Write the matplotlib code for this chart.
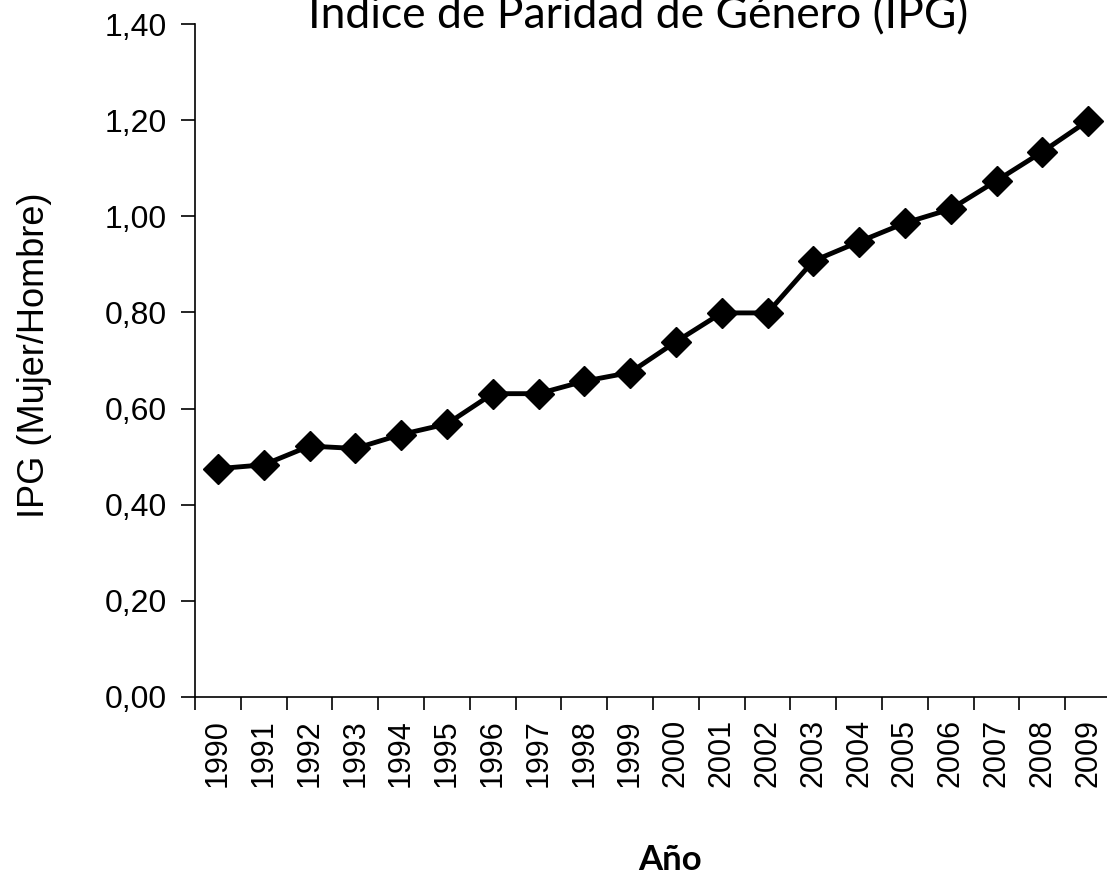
import matplotlib
matplotlib.use("Agg")
import matplotlib.pyplot as plt
import numpy as np

# datos
years = ['1990', '1991', '1992', '1993', '1994', '1995', '1996', '1997', '1998', '1999',
         '2000', '2001', '2002', '2003', '2004', '2005', '2006', '2007', '2008', '2009']
ipg = [0.475, 0.483, 0.522, 0.517, 0.546, 0.568, 0.631, 0.631, 0.657, 0.675,
       0.739, 0.799, 0.799, 0.907, 0.947, 0.986, 1.015, 1.074, 1.134, 1.199]
yticks = [0.0, 0.2, 0.4, 0.6, 0.8, 1.0, 1.2, 1.4]

fig = plt.figure(figsize=(11.07, 8.84), dpi=100)
ax = fig.add_axes([195 / 1107, 187 / 884, 916 / 1107, 673 / 884])

x = np.arange(len(years))
ax.plot(x, ipg, color='black', linewidth=3.5, marker='D', markersize=15.5,
        markerfacecolor='black', markeredgecolor='black', clip_on=False)

ax.set_xlim(-0.5, len(years) - 0.5)
ax.set_ylim(0, 1.4)

# ticks entre categorias (estilo Excel)
ax.set_xticks(np.arange(len(years) + 1) - 0.5)
ax.set_xticklabels([])
ax.set_xticks(x, minor=True)
ax.set_xticklabels(years, minor=True, rotation=90, fontsize=22,
                   family='Liberation Sans')
ax.tick_params(axis='x', which='major', direction='out', length=9, width=1.2)
ax.tick_params(axis='x', which='minor', length=0, pad=16)

ytl = [('%.2f' % v).replace('.', ',') for v in yticks]
ax.set_yticks(yticks)
ax.set_yticklabels(ytl, fontsize=23, family='Liberation Sans')
ax.tick_params(axis='y', direction='out', length=10, width=1.2, pad=10)

ax.spines['top'].set_visible(False)
ax.spines['right'].set_visible(False)
ax.spines['left'].set_linewidth(1.2)
ax.spines['bottom'].set_linewidth(1.2)

fig.text(35 / 1107, 1 - 355 / 884, 'IPG (Mujer/Hombre)', fontsize=26,
         family='Liberation Sans', rotation=90, ha='center', va='center')
fig.text(670 / 1107, 1 - 860 / 884, 'Año', fontsize=25, fontweight='bold',
         family='Lato', ha='center', va='center')
fig.text(638 / 1107, 1 - 28 / 884, 'Índice de Paridad de Género (IPG)', fontsize=32,
         family='Lato', ha='center', va='baseline')

fig.savefig('out.png', dpi=100)
